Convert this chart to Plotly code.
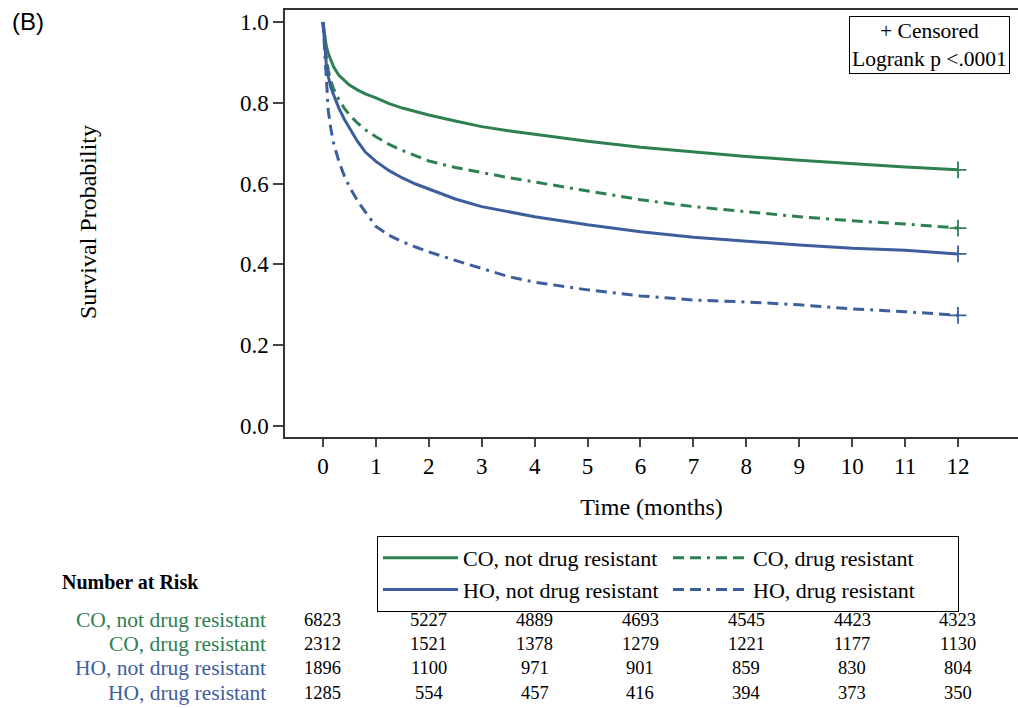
import plotly.graph_objects as go

# ---- data ----
months = [0, 0.03, 0.06, 0.1, 0.15, 0.2, 0.3, 0.4, 0.5, 0.65, 0.8, 1, 1.25, 1.5, 1.75, 2, 2.5,
          3, 3.5, 4, 5, 6, 7, 8, 9, 10, 11, 12]
co_not_dr = [1.0, 0.962, 0.942, 0.922, 0.903, 0.889, 0.868, 0.855, 0.844, 0.832, 0.822, 0.812, 0.798,
             0.787, 0.778, 0.770, 0.755, 0.741, 0.731, 0.722, 0.705, 0.690, 0.678, 0.667, 0.658,
             0.649, 0.641, 0.634]
co_dr = [1.0, 0.95, 0.915, 0.88, 0.853, 0.835, 0.808, 0.787, 0.770, 0.750, 0.733, 0.716, 0.697,
         0.682, 0.668, 0.656, 0.640, 0.627, 0.615, 0.604, 0.582, 0.560, 0.543, 0.530, 0.518,
         0.508, 0.500, 0.490]
ho_not_dr = [1.0, 0.94, 0.90, 0.865, 0.838, 0.82, 0.787, 0.760, 0.737, 0.705, 0.678, 0.655, 0.632,
             0.614, 0.599, 0.586, 0.562, 0.543, 0.530, 0.518, 0.498, 0.481, 0.467, 0.457, 0.448,
             0.440, 0.435, 0.426]
ho_dr = [1.0, 0.93, 0.85, 0.78, 0.735, 0.70, 0.655, 0.62, 0.592, 0.558, 0.530, 0.494, 0.472,
         0.456, 0.443, 0.431, 0.410, 0.390, 0.370, 0.356, 0.337, 0.322, 0.312, 0.307, 0.300,
         0.290, 0.283, 0.274]

group_names = ["CO, not drug resistant", "CO, drug resistant",
               "HO, not drug resistant", "HO, drug resistant"]
risk_months = [0, 2, 4, 6, 8, 10, 12]
risk_co_not_dr = [6823, 5227, 4889, 4693, 4545, 4423, 4323]
risk_co_dr = [2312, 1521, 1378, 1279, 1221, 1177, 1130]
risk_ho_not_dr = [1896, 1100, 971, 901, 859, 830, 804]
risk_ho_dr = [1285, 554, 457, 416, 394, 373, 350]
x_ticks = list(range(0, 13))
y_ticks = [0.0, 0.2, 0.4, 0.6, 0.8, 1.0]

GREEN = "#2E8050"
BLUE = "#3D5E9C"
DD = "11px,6px,11px,6px,3px,6px"
SERIF = "Liberation Serif, Times New Roman, serif"

series = [
    (group_names[0], co_not_dr, GREEN, "solid"),
    (group_names[1], co_dr, GREEN, DD),
    (group_names[2], ho_not_dr, BLUE, "solid"),
    (group_names[3], ho_dr, BLUE, DD),
]
risk_rows = [risk_co_not_dr, risk_co_dr, risk_ho_not_dr, risk_ho_dr]

fig = go.Figure()
for name, ys, col, dash in series:
    fig.add_trace(go.Scatter(x=months, y=ys, mode="lines", name=name,
                             line=dict(color=col, width=3, dash=dash)))
for name, ys, col, dash in series:
    fig.add_trace(go.Scatter(x=[months[-1]], y=[ys[-1]], mode="markers", showlegend=False,
                             marker=dict(symbol="cross-thin", size=12, color=col,
                                         line=dict(color=col, width=1.8))))

fig.update_layout(
    width=1018, height=708,
    margin=dict(l=285, r=0, t=10, b=271),
    paper_bgcolor="white", plot_bgcolor="white",
    font=dict(family=SERIF, size=19, color="black"),
    showlegend=True,
    legend=dict(orientation="h", x=0.1255, y=-0.2319, xanchor="left", yanchor="top",
                bordercolor="black", borderwidth=1, bgcolor="white",
                itemwidth=75, entrywidth=200, tracegroupgap=0,
                font=dict(family=SERIF, size=22, color="black")),
)
fig.update_xaxes(range=[-0.718, 13.134], tickvals=x_ticks, ticks="outside", ticklen=8,
                 tickwidth=1.5, showline=True, linecolor="#333", linewidth=1.5, mirror=True,
                 showgrid=False, zeroline=False, tickfont=dict(size=23),
                 title=dict(text="Time (months)", font=dict(size=24), standoff=20))
fig.update_yaxes(range=[-0.0272, 1.0297], tickvals=y_ticks, tickformat=".1f", ticks="outside",
                 ticklen=10, tickwidth=1.5, showline=True, linecolor="#333", linewidth=1.5,
                 mirror=False, showgrid=False, zeroline=False, tickfont=dict(size=23))

ann = []
ann.append(dict(text="Survival Probability", textangle=-90, xref="paper", yref="paper",
                x=-0.2688, y=0.5035, xanchor="center", yanchor="middle", showarrow=False,
                font=dict(size=24)))
ann.append(dict(text="(B)", xref="paper", yref="paper", x=-0.375, y=0.972, xanchor="left",
                yanchor="middle", showarrow=False,
                font=dict(family="Liberation Sans, Arial, sans-serif", size=24)))
ann.append(dict(text="+ Censored<br>Logrank p <.0001", xref="paper", yref="paper", x=0.8786,
                y=0.918, xanchor="center", yanchor="middle", showarrow=False,
                bordercolor="black", borderwidth=1, borderpad=2,
                bgcolor="white", align="center", font=dict(size=21.5)))
ann.append(dict(text="<b>Number at Risk</b>", xref="paper", yref="paper", x=-0.307, y=-0.3396,
                xanchor="left", yanchor="middle", showarrow=False, font=dict(size=20)))
row_y = [-0.4286, -0.4848, -0.541, -0.5995]
row_col = [GREEN, GREEN, BLUE, BLUE]
for name, ry, col, vals in zip(group_names, row_y, row_col, risk_rows):
    ann.append(dict(text=name, xref="paper", yref="paper", x=-0.0232, y=ry, xanchor="right",
                    yanchor="middle", showarrow=False, font=dict(size=21.5, color=col)))
    for m, v in zip(risk_months, vals):
        ann.append(dict(text=str(v), xref="x", yref="paper", x=m, y=ry, xanchor="center",
                        yanchor="middle", showarrow=False, font=dict(size=18.5, color="black")))
fig.update_layout(annotations=ann)

fig.write_html("out.html")
